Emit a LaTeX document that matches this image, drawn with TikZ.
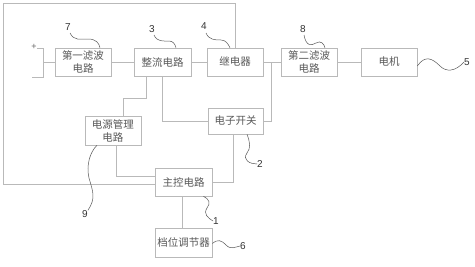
\documentclass[tikz,border=0pt]{standalone}
\usepackage{fontspec}
\newfontfamily\cjk{Noto Sans CJK SC}
\newfontfamily\numf{Liberation Sans}
\begin{document}
\begin{tikzpicture}[x=1pt,y=-1pt,
  box/.style={draw=gray!55, line width=0.6pt, minimum width=56pt, minimum height=28pt,
    inner sep=0pt, font=\cjk\fontsize{10.5}{13}\selectfont, text=black!65, align=center},
  wire/.style={draw=gray!55, line width=0.6pt},
  lead/.style={draw=black!65, line width=0.5pt},
  num/.style={font=\numf\fontsize{10}{12}\selectfont, text=black!80, inner sep=0pt}]
\useasboundingbox[fill=white] (0,0) rectangle (475,266);

% blocks
\node[box] (f1) at (83,62) {第一滤波\\电路};
\node[box, minimum width=57pt] (rc) at (162.5,62) {整流电路};
\node[box] (ry) at (235,62) {继电器};
\node[box] (f2) at (309,62) {第二滤波\\电路};
\node[box] (mo) at (389,62) {电机};
\node[box, minimum width=55pt, minimum height=26pt] (sw) at (235.5,121) {电子开关};
\node[box, minimum height=29pt] (pm) at (113,130.5) {电源管理\\电路};
\node[box, minimum width=57pt] (mc) at (183.5,182) {主控电路};
\node[box, minimum width=57pt, minimum height=29pt] (gr) at (183.5,242.5) {档位调节器};

% input terminals
\node[font=\numf\fontsize{9}{10}\selectfont, text=black!60, inner sep=0pt] (plus) at (34,47) {+};
\coordinate (tp) at (43,48);
\coordinate (bt) at (43,77);
\coordinate (btl) at (32,77);
\coordinate (mid) at (43,62);
\draw[wire] (plus.east |- tp) -- (tp) -- (bt) -- (btl);
\draw[wire] (mid) -- (f1);

% main chain
\draw[wire] (f1) -- (rc);
\draw[wire] (rc) -- (ry);
\draw[wire] (ry) -- (f2);
\draw[wire] (f2) -- (mo);
\coordinate (j) at (271,62);
\draw[wire] (j) |- (sw.east);

% rectifier drops
\draw[wire] ([xshift=-16.5pt]rc.south) -- ++(0,22) -| ([xshift=10pt]pm.north);
\draw[wire] (rc.south) |- (sw.west);

% to main control
\draw[wire] ([xshift=3pt]pm.south) |- ([yshift=6pt]mc.west);
\draw[wire] ([xshift=-2.5pt]sw.south) |- (mc.east);
\draw[wire] ([xshift=-1.5pt]mc.south) -- ([xshift=-1.5pt]gr.north);

% outer frame
\coordinate (fb) at (3,184);
\coordinate (ftl) at (3,3);
\coordinate (ftr) at (235,3);
\draw[wire] (fb -| mc.west) -- (fb) -- (ftl) -- (ftr) -- (ry.north);

% reference numbers
\node[num] (n7) at (68,27) {7};
\draw[lead] (70,33) .. controls (74,41) and (80,39) .. (88,39) .. controls (96,39) and (99,43) .. ([xshift=17pt]f1.north);
\node[num] (n3) at (152,29) {3};
\draw[lead] (154,35) .. controls (157,42) and (163,41) .. (169,41) .. controls (173,41) and (175,44) .. ([xshift=13.5pt]rc.north);
\node[num] (n4) at (204,26) {4};
\draw[lead] (206,33) .. controls (209,40) and (215,40) .. (221,40) .. controls (226,40) and (228,44) .. ([xshift=-5pt]ry.north);
\node[num] (n8) at (303,29) {8};
\draw[lead] (304,35) .. controls (306,46) and (311,46) .. (316,43) .. controls (321,40) and (324,44) .. ([xshift=16pt]f2.north);
\node[num] (n5) at (467,62) {5};
\draw[lead] ([yshift=-4pt]mo.east) .. controls (425,55) and (432,58) .. (440,66) .. controls (446,72) and (455,72) .. (n5.west);
\node[num] (n2) at (260,164) {2};
\draw[lead] ([xshift=11.5pt]sw.south) .. controls (250,142) and (251,148) .. (247,153) .. controls (242,160) and (250,164) .. (n2.west);
\node[num] (n1) at (216,221) {1};
\draw[lead] ([xshift=20pt]mc.south) .. controls (209,199) and (211,203) .. (207,208) .. controls (203,214) and (208,218) .. (n1.west);
\node[num] (n6) at (243,246) {6};
\draw[lead] ([yshift=-1pt]gr.east) .. controls (218,239) and (221,240) .. (226,245) .. controls (231,250) and (235,247) .. (n6.west);
\node[num] (n9) at (85,214) {9};
\draw[lead] ([xshift=-16pt]pm.south) .. controls (90,152) and (86,165) .. (89,178) .. controls (93,192) and (96,198) .. (n9.north east);
\end{tikzpicture}
\end{document}
